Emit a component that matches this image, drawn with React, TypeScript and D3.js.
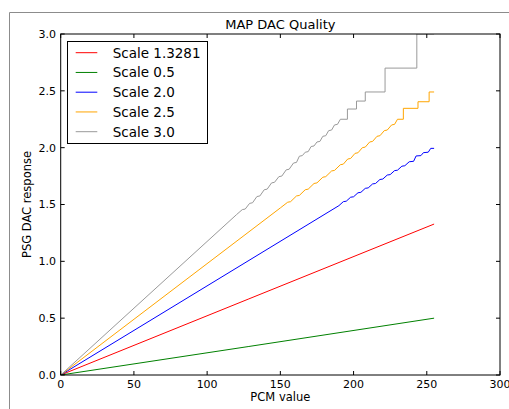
import { scaleLinear, line } from "d3";

const width = 509;
const height = 409;

// axes box, in page pixels
const left = 60.7;
const right = 500;
const top = 34;
const bottom = 375;

const xTicks = [0, 50, 100, 150, 200, 250, 300];
const yTicks = [0, 0.5, 1.0, 1.5, 2.0, 2.5, 3.0];

const seriesNames = ["Scale 1.3281", "Scale 0.5", "Scale 2.0", "Scale 2.5", "Scale 3.0"];
const seriesColors = ["#ff0000", "#008000", "#0000ff", "#ffa500", "#999999"];

// [PCM value, DAC response] points
const redPoints = [[0, 0], [128, 0.667], [255, 1.328]];
const greenPoints = [[0, 0], [128, 0.25], [255, 0.5]];
const bluePoints = [
  [0, 0], [190, 1.49], [193, 1.525], [195, 1.529], [198, 1.564], [200, 1.568],
  [203, 1.603], [205, 1.607], [208, 1.642], [210, 1.646], [213, 1.681], [215, 1.685],
  [218, 1.72], [220, 1.724], [223, 1.759], [225, 1.763], [228, 1.798], [230, 1.802],
  [233, 1.837], [235, 1.841], [238, 1.876], [241, 1.88], [242.7, 1.927], [246, 1.93],
  [247.7, 1.956], [251, 1.96], [252.7, 1.994], [255, 1.994],
];
const orangePoints = [
  [0, 0], [150, 1.47], [155, 1.52], [157, 1.525], [161, 1.575], [163, 1.58], [167, 1.63],
  [169, 1.635], [173, 1.685], [175, 1.69], [179, 1.74], [181, 1.745], [185, 1.795],
  [187, 1.8], [191, 1.85], [193, 1.855], [196, 1.9], [198, 1.905], [201, 1.95],
  [203, 1.955], [206, 2.0], [208, 2.005], [211, 2.05], [213, 2.055], [216, 2.1],
  [218, 2.105], [221, 2.15], [223, 2.155], [226, 2.2], [228, 2.205], [230, 2.25],
  [234, 2.25], [234, 2.346], [244, 2.346], [244, 2.404], [251.6, 2.404], [251.6, 2.49],
  [255, 2.49],
];
const grayPoints = [
  [0, 0], [120, 1.41], [124, 1.455], [126, 1.46], [129, 1.51], [131, 1.515], [134, 1.57],
  [136, 1.575], [139, 1.63], [141, 1.635], [144, 1.69], [146, 1.695], [149, 1.745],
  [151, 1.75], [154, 1.805], [156, 1.81], [159, 1.865], [161, 1.87], [163, 1.925],
  [165, 1.93], [167, 1.96], [169, 1.965], [171, 2.01], [173, 2.015], [175, 2.05],
  [177, 2.055], [179, 2.1], [181, 2.105], [183, 2.15], [185, 2.155], [187, 2.2],
  [189, 2.205], [191, 2.25], [195.8, 2.25], [195.8, 2.34], [202, 2.34], [202, 2.41],
  [208, 2.41], [208, 2.49], [221.5, 2.49], [221.5, 2.7], [243.2, 2.7], [243.2, 3.0],
  [255, 3.0],
];
const allPoints = [redPoints, greenPoints, bluePoints, orangePoints, grayPoints];

const x = scaleLinear().domain([0, 300]).range([left, right]);
const y = scaleLinear().domain([0, 3]).range([bottom, top]);

const path = line<number[]>()
  .x((d) => x(d[0]))
  .y((d) => y(d[1]));

const font = "'DejaVu Sans', sans-serif";

const App = () => {
  return (
    <svg
      width={width}
      height={height}
      style={{ position: "absolute", left: 0, top: 0, background: "#fff" }}
      fontFamily={font}
    >
      {/* window frame */}
      <line x1={9.5} x2={width} y1={12.5} y2={12.5} stroke="#8c8c8c" />
      <line x1={9.5} x2={9.5} y1={12.5} y2={height} stroke="#8c8c8c" />

      <text x={(left + right) / 2} y={29} textAnchor="middle" fontSize={13}>
        MAP DAC Quality
      </text>

      <defs>
        <clipPath id="plot">
          <rect x={left} y={top} width={right - left} height={bottom - top} />
        </clipPath>
      </defs>
      <g clipPath="url(#plot)">
        {allPoints.map((pts, i) => (
          <path key={i} d={path(pts) ?? ""} fill="none" stroke={seriesColors[i]} strokeWidth={1} />
        ))}
      </g>

      {/* ticks, pointing inward on all four sides */}
      {xTicks.map((t) => (
        <g key={"x" + t}>
          <line x1={x(t)} x2={x(t)} y1={bottom} y2={bottom - 4} stroke="#000" />
          <line x1={x(t)} x2={x(t)} y1={top} y2={top + 4} stroke="#000" />
          <text x={x(t)} y={388} textAnchor="middle" fontSize={11}>
            {t}
          </text>
        </g>
      ))}
      {yTicks.map((t) => (
        <g key={"y" + t}>
          <line x1={left} x2={left + 4} y1={y(t)} y2={y(t)} stroke="#000" />
          <line x1={right} x2={right - 4} y1={y(t)} y2={y(t)} stroke="#000" />
          <text x={56} y={y(t)} dy="0.35em" textAnchor="end" fontSize={11}>
            {t.toFixed(1)}
          </text>
        </g>
      ))}

      <rect x={left} y={top} width={right - left} height={bottom - top} fill="none" stroke="#000" />

      <text x={(left + right) / 2} y={401} textAnchor="middle" fontSize={11.5}>
        PCM value
      </text>
      <text
        transform={`translate(31,${(top + bottom) / 2}) rotate(-90)`}
        textAnchor="middle"
        fontSize={11.5}
      >
        PSG DAC response
      </text>

      {/* legend */}
      <rect x={67.5} y={41.5} width={140} height={102} fill="#fff" stroke="#000" />
      {seriesNames.map((name, i) => {
        const ly = 52.7 + i * 19.75;
        return (
          <g key={name}>
            <line x1={75.7} x2={97.3} y1={ly} y2={ly} stroke={seriesColors[i]} />
            <text x={112.7} y={ly} dy="0.36em" fontSize={13.5}>
              {name}
            </text>
          </g>
        );
      })}
    </svg>
  );
};

export default App;
